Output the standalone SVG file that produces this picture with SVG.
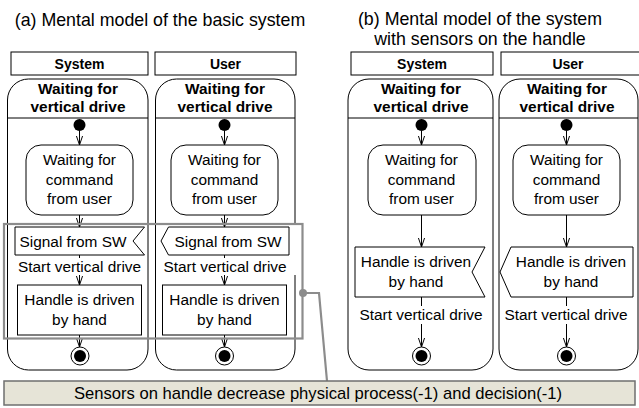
<svg xmlns="http://www.w3.org/2000/svg" width="639" height="408" viewBox="0 0 639 408">
  <defs>
    <style>
      .t { font-family: "Liberation Sans", Arial, sans-serif; fill: #000; text-anchor: middle; }
      .title { font-size: 17.8px; }
      .body { font-size: 15.4px; }
      .bold { font-size: 15.4px; font-weight: bold; }
      .hdr { font-size: 14px; font-weight: bold; }
      .note { font-size: 16.6px; }
      .box { fill: #fff; stroke: #000; stroke-width: 1; }
      .lane { fill: #fff; stroke: #000; stroke-width: 1; }
      .edge { fill: none; stroke: #000; stroke-width: 1; marker-end: url(#open); }
      .lbg { fill: #fff; stroke: none; }
      .frame { fill: none; stroke: #8c8c8c; stroke-width: 2.2; }
    </style>
    <marker id="open" markerUnits="userSpaceOnUse" viewBox="0 0 10 10" refX="10" refY="5" markerWidth="9" markerHeight="9" orient="auto">
      <path d="M0,1.6 L10,5 L0,8.4" fill="none" stroke="#000" stroke-width="1.1"/>
    </marker>
  </defs>

  <!-- panel titles -->
  <text class="t title" x="160" y="26">(a) Mental model of the basic system</text>
  <text class="t title" x="480" y="25">(b) Mental model of the system</text>
  <text class="t title" x="480" y="45">with sensors on the handle</text>

  <!-- (a) System lane -->
  <g id="a-system">
    <rect class="box" x="11" y="52" width="137" height="23"/>
    <text class="t hdr" x="79.5" y="69">System</text>
    <rect class="lane" x="7.5" y="79" width="140.5" height="291" rx="21" ry="21"/>
    <line x1="7.5" y1="118" x2="148" y2="118" stroke="#000"/>
    <text class="t bold" x="78" y="94">Waiting for</text>
    <text class="t bold" x="78" y="112">vertical drive</text>
  </g>

  <!-- (a) User lane -->
  <g id="a-user">
    <rect class="box" x="155" y="52" width="141" height="23"/>
    <text class="t hdr" x="225.5" y="69">User</text>
    <rect class="lane" x="155.5" y="79" width="139.5" height="291" rx="21" ry="21"/>
    <line x1="155.5" y1="118" x2="295" y2="118" stroke="#000"/>
    <text class="t bold" x="225" y="94">Waiting for</text>
    <text class="t bold" x="225" y="112">vertical drive</text>
  </g>

  <!-- (b) System lane -->
  <g id="b-system">
    <rect class="box" x="351" y="52" width="142" height="23"/>
    <text class="t hdr" x="422" y="69">System</text>
    <rect class="lane" x="348" y="79" width="145" height="291" rx="21" ry="21"/>
    <line x1="348" y1="118" x2="493" y2="118" stroke="#000"/>
    <text class="t bold" x="421" y="94">Waiting for</text>
    <text class="t bold" x="421" y="112">vertical drive</text>
  </g>

  <!-- (b) User lane -->
  <g id="b-user">
    <rect class="box" x="501" y="52" width="141" height="23"/>
    <text class="t hdr" x="568" y="69">User</text>
    <rect class="lane" x="499" y="79" width="139" height="291" rx="21" ry="21"/>
    <line x1="499" y1="118" x2="638" y2="118" stroke="#000"/>
    <text class="t bold" x="567" y="94">Waiting for</text>
    <text class="t bold" x="567" y="112">vertical drive</text>
  </g>

  <!-- connectors -->
  <g id="connectors">
    <!-- (a) System -->
    <line class="edge" x1="79.5" y1="131" x2="79.5" y2="145"/>
    <line class="edge" x1="79.5" y1="215" x2="79.5" y2="227"/>
    <line class="edge" x1="79.5" y1="255" x2="79.5" y2="285"/>
    <line class="edge" x1="79.5" y1="335" x2="79.5" y2="347"/>
    <!-- (a) User -->
    <line class="edge" x1="224.5" y1="131" x2="224.5" y2="145"/>
    <line class="edge" x1="224.5" y1="215" x2="224.5" y2="227"/>
    <line class="edge" x1="224.5" y1="255" x2="224.5" y2="285"/>
    <line class="edge" x1="224.5" y1="335" x2="224.5" y2="347"/>
    <!-- (b) System -->
    <line class="edge" x1="421.5" y1="131" x2="421.5" y2="145"/>
    <line class="edge" x1="421.5" y1="215" x2="421.5" y2="247"/>
    <line class="edge" x1="421.5" y1="297" x2="421.5" y2="347"/>
    <!-- (b) User -->
    <line class="edge" x1="566.5" y1="131" x2="566.5" y2="145"/>
    <line class="edge" x1="566.5" y1="215" x2="566.5" y2="247"/>
    <line class="edge" x1="566.5" y1="297" x2="566.5" y2="347"/>
  </g>

  <!-- label backings (hide lines running behind the transition labels) -->
  <rect class="lbg" x="17" y="258" width="125" height="17"/>
  <rect class="lbg" x="160" y="258" width="138" height="17"/>
  <rect class="lbg" x="290" y="224.5" width="8" height="50.5"/>
  <rect class="lbg" x="357" y="306" width="128" height="18"/>
  <rect class="lbg" x="504" y="306" width="124" height="18"/>

  <!-- initial nodes -->
  <g id="a-system-start"><circle cx="79.5" cy="125" r="6"/></g>
  <g id="a-user-start"><circle cx="224.5" cy="125" r="6"/></g>
  <g id="b-system-start"><circle cx="421.5" cy="125" r="6"/></g>
  <g id="b-user-start"><circle cx="566.5" cy="125" r="6"/></g>

  <!-- waiting activities -->
  <g id="a-system-wait">
    <rect class="box" x="26" y="145" width="107" height="70" rx="15"/>
    <text class="t body" x="79.5" y="165">Waiting for</text>
    <text class="t body" x="79.5" y="184.5">command</text>
    <text class="t body" x="79.5" y="204">from user</text>
  </g>
  <g id="a-user-wait">
    <rect class="box" x="171" y="145" width="107" height="70" rx="15"/>
    <text class="t body" x="224.5" y="165">Waiting for</text>
    <text class="t body" x="224.5" y="184.5">command</text>
    <text class="t body" x="224.5" y="204">from user</text>
  </g>
  <g id="b-system-wait">
    <rect class="box" x="368" y="145" width="108" height="70" rx="15"/>
    <text class="t body" x="421.5" y="165">Waiting for</text>
    <text class="t body" x="421.5" y="184.5">command</text>
    <text class="t body" x="421.5" y="204">from user</text>
  </g>
  <g id="b-user-wait">
    <rect class="box" x="513" y="145" width="107" height="70" rx="15"/>
    <text class="t body" x="566.5" y="165">Waiting for</text>
    <text class="t body" x="566.5" y="184.5">command</text>
    <text class="t body" x="566.5" y="204">from user</text>
  </g>

  <!-- (a) signals -->
  <g id="a-system-signal">
    <path class="box" d="M15,227 H144.5 L133,241 L144.5,255 H15 Z"/>
    <text class="t body" x="73" y="246.5">Signal from SW</text>
  </g>
  <g id="a-user-signal">
    <path class="box" d="M168.5,227 H289 V255 H168.5 L161,241 Z"/>
    <text class="t body" x="228" y="246.5">Signal from SW</text>
  </g>

  <!-- transition labels -->
  <text class="t body" x="79.5" y="272">Start vertical drive</text>
  <text class="t body" x="225" y="272">Start vertical drive</text>
  <text class="t body" x="421" y="320">Start vertical drive</text>
  <text class="t body" x="566" y="320">Start vertical drive</text>

  <!-- (a) handle driven by hand -->
  <g id="a-system-hand">
    <rect class="box" x="17.5" y="285" width="124" height="50"/>
    <text class="t body" x="79.5" y="305">Handle is driven</text>
    <text class="t body" x="79.5" y="325">by hand</text>
  </g>
  <g id="a-user-hand">
    <rect class="box" x="162.5" y="285" width="124" height="50"/>
    <text class="t body" x="224.5" y="305">Handle is driven</text>
    <text class="t body" x="224.5" y="325">by hand</text>
  </g>

  <!-- (b) handle driven by hand -->
  <g id="b-system-hand">
    <path class="box" d="M355,247 H485 L472,272 L485,297 H355 Z"/>
    <text class="t body" x="416" y="267">Handle is driven</text>
    <text class="t body" x="416" y="287">by hand</text>
  </g>
  <g id="b-user-hand">
    <path class="box" d="M511,247 H633 V297 H511 L500,272 Z"/>
    <text class="t body" x="571" y="267">Handle is driven</text>
    <text class="t body" x="571" y="287">by hand</text>
  </g>

  <!-- final nodes -->
  <g id="a-system-end"><circle cx="80" cy="356" r="9" fill="#fff" stroke="#000"/><circle cx="80" cy="356" r="6"/></g>
  <g id="a-user-end"><circle cx="224.5" cy="356" r="9" fill="#fff" stroke="#000"/><circle cx="224.5" cy="356" r="6"/></g>
  <g id="b-system-end"><circle cx="421.5" cy="356" r="9" fill="#fff" stroke="#000"/><circle cx="421.5" cy="356" r="6"/></g>
  <g id="b-user-end"><circle cx="566.5" cy="356" r="9" fill="#fff" stroke="#000"/><circle cx="566.5" cy="356" r="6"/></g>

  <!-- highlighted region and its annotation -->
  <g id="highlight">
    <rect class="frame" x="4" y="224" width="298.5" height="114.5"/>
  </g>
  <g id="note-link">
    <circle cx="303" cy="293" r="4" fill="#8c8c8c"/>
    <path d="M303,293 H319 L327,381" fill="none" stroke="#8c8c8c" stroke-width="2.2"/>
  </g>
  <g id="note">
    <rect x="4" y="381" width="631" height="24" fill="#e6e4d7" stroke="#6f6f6f" stroke-width="1.5"/>
    <text class="t note" x="318" y="399">Sensors on handle decrease physical process(-1) and decision(-1)</text>
  </g>
</svg>
